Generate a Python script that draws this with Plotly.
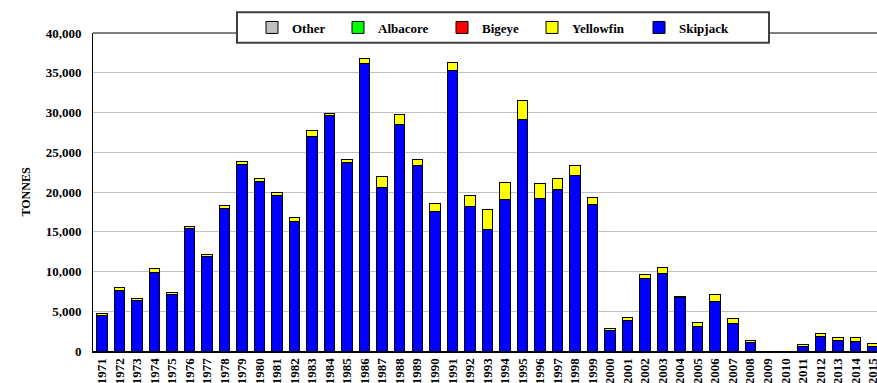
import plotly.graph_objects as go

years = ["1971", "1972", "1973", "1974", "1975", "1976", "1977", "1978", "1979", "1980",
         "1981", "1982", "1983", "1984", "1985", "1986", "1987", "1988", "1989", "1990",
         "1991", "1992", "1993", "1994", "1995", "1996", "1997", "1998", "1999", "2000",
         "2001", "2002", "2003", "2004", "2005", "2006", "2007", "2008", "2009", "2010",
         "2011", "2012", "2013", "2014", "2015"]

skipjack = [4490, 7670, 6290, 9850, 7050, 15400, 11860, 17980, 23420, 21350,
            19550, 16350, 26970, 29570, 23700, 36200, 20600, 28500, 23300, 17500,
            35300, 18200, 15300, 19000, 29100, 19200, 20300, 22100, 18400, 2560,
            3900, 9100, 9800, 6670, 3070, 6200, 3500, 1050, 0, 0,
            600, 1840, 1300, 1170, 600]

yellowfin = [290, 290, 290, 500, 280, 300, 290, 290, 410, 350,
             350, 410, 730, 330, 400, 600, 1400, 1300, 800, 1100,
             1000, 1300, 2500, 2200, 2400, 1900, 1400, 1200, 900, 240,
             260, 500, 700, 230, 530, 850, 600, 250, 0, 0,
             280, 360, 420, 550, 400]

bigeye = [0] * 45
albacore = [0] * 45
other = [0] * 45

y_ticks = [0, 5000, 10000, 15000, 20000, 25000, 30000, 35000, 40000]

series = [
    ("Skipjack", skipjack, "#0000FF", "legend5"),
    ("Yellowfin", yellowfin, "#FFFF00", "legend4"),
    ("Bigeye", bigeye, "#FF0000", "legend3"),
    ("Albacore", albacore, "#00FF00", "legend2"),
    ("Other", other, "#C0C0C0", "legend"),
]

FONT = "Liberation Serif, Times New Roman, serif"

fig = go.Figure()
for name, vals, color, leg in series:
    fig.add_trace(go.Bar(
        x=years, y=vals, name=name, legend=leg,
        marker=dict(color=color, line=dict(color="black", width=1)),
    ))

L, R, T, B = 93, 877, 33, 351
W = R - L
H = B - T


def px_x(p):
    return (p - L) / W


def px_y(p):
    return (B - p) / H


# text start positions of legend entries (pixels)
text_starts = {"legend": 292, "legend2": 378, "legend3": 482, "legend4": 572, "legend5": 679}
legend_layout = {}
for key, ts in text_starts.items():
    legend_layout[key] = dict(
        x=px_x(ts - 40), y=px_y(27.5), xanchor="left", yanchor="middle",
        bgcolor="rgba(0,0,0,0)", borderwidth=0,
        font=dict(family=FONT, size=13, color="black", weight="bold"),
    )

fig.update_layout(
    width=877, height=383,
    margin=dict(l=L, r=0, t=T, b=383 - B, pad=0, autoexpand=False),
    paper_bgcolor="white", plot_bgcolor="white",
    font=dict(family=FONT, size=13, color="black", weight="bold"),
    barmode="stack", bargap=0.4,
    showlegend=True, hovermode=False,
    xaxis=dict(
        type="category", range=[-0.5, 44.23], automargin=False,
        showline=True, linecolor="black", linewidth=2,
        ticks="", tickangle=-90, showgrid=False,
        tickfont=dict(family=FONT, size=13, weight="bold"),
    ),
    yaxis=dict(
        range=[0, 40000], tickvals=y_ticks, tickformat=",", automargin=False,
        showgrid=True, gridcolor="#C0C0C0", gridwidth=1,
        showline=True, linecolor="black", linewidth=1,
        zeroline=False, ticks="", ticklabelstandoff=8,
        tickfont=dict(family=FONT, size=13, weight="bold"),
        title=dict(text="TONNES", font=dict(family=FONT, size=12, weight="bold"), standoff=12),
    ),
    shapes=[
        dict(type="line", xref="paper", yref="paper", x0=0, x1=1, y0=1, y1=1,
             line=dict(color="black", width=1), layer="above"),
        dict(type="rect", xref="paper", yref="paper",
             x0=px_x(237), x1=px_x(769), y0=px_y(42.7), y1=px_y(12.3),
             fillcolor="white", line=dict(color="#404040", width=2), layer="above"),
    ],
    **legend_layout,
)

fig.write_html(
    "out.html",
    config={"displayModeBar": False, "staticPlot": True},
    post_script="document.body.style.margin='0px';document.body.style.overflow='hidden';",
)
